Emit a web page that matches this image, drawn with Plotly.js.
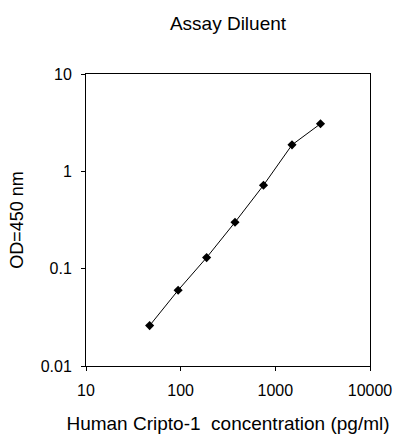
<!DOCTYPE html>
<html>
<head>
<meta charset="utf-8">
<script src="https://cdn.plot.ly/plotly-3.0.1.min.js"></script>
<style>html,body{margin:0;padding:0;background:#fff;}#chart{width:414px;height:443px;}</style>
</head>
<body>
<div id="chart"></div>
<script>
const concentration = [47, 94, 188, 375, 750, 1500, 3000];
const od450 = [0.026, 0.060, 0.130, 0.300, 0.72, 1.87, 3.08];
const xTickVals = [10, 100, 1000, 10000];
const xTickText = ['10', '100', '1000', '10000'];
const yTickVals = [0.01, 0.1, 1, 10];
const yTickText = ['0.01', '0.1', '1', '10'];

const font = {family: 'Liberation Sans, Arial, sans-serif', color: '#000'};

Plotly.newPlot('chart', [{
  x: concentration,
  y: od450,
  type: 'scatter',
  mode: 'lines+markers',
  line: {color: '#000', width: 1},
  marker: {color: '#000', size: 7, symbol: 'diamond'},
  showlegend: false
}], {
  width: 414,
  height: 443,
  margin: {l: 86, r: 44, t: 74, b: 77},
  paper_bgcolor: '#fff',
  plot_bgcolor: '#fff',
  font: Object.assign({size: 16}, font),
  title: {text: 'Assay Diluent', xref: 'paper', x: 0.5, xanchor: 'center', yref: 'container', y: 0.948, yanchor: 'middle', font: Object.assign({size: 19}, font)},
  xaxis: {
    type: 'log',
    range: [1, 4],
    tickvals: xTickVals,
    ticktext: xTickText,
    ticks: 'outside',
    ticklen: 4,
    tickcolor: '#000',
    ticklabelstandoff: 6,
    showline: true,
    linecolor: '#000',
    linewidth: 1,
    mirror: true,
    showgrid: false,
    zeroline: false,
    tickfont: Object.assign({size: 16}, font),
    title: {text: 'Human Cripto-1  concentration (pg/ml)', standoff: 18, font: Object.assign({size: 19}, font)}
  },
  yaxis: {
    type: 'log',
    range: [-2, 1],
    tickvals: yTickVals,
    ticktext: yTickText,
    ticks: 'outside',
    ticklen: 4,
    tickcolor: '#000',
    ticklabelstandoff: 6,
    showline: true,
    linecolor: '#000',
    linewidth: 1,
    mirror: true,
    showgrid: false,
    zeroline: false,
    tickfont: Object.assign({size: 16}, font),
    title: {text: 'OD=450 nm', standoff: 12, font: Object.assign({size: 18}, font)}
  }
}, {displayModeBar: false, staticPlot: true});
</script>
</body>
</html>
